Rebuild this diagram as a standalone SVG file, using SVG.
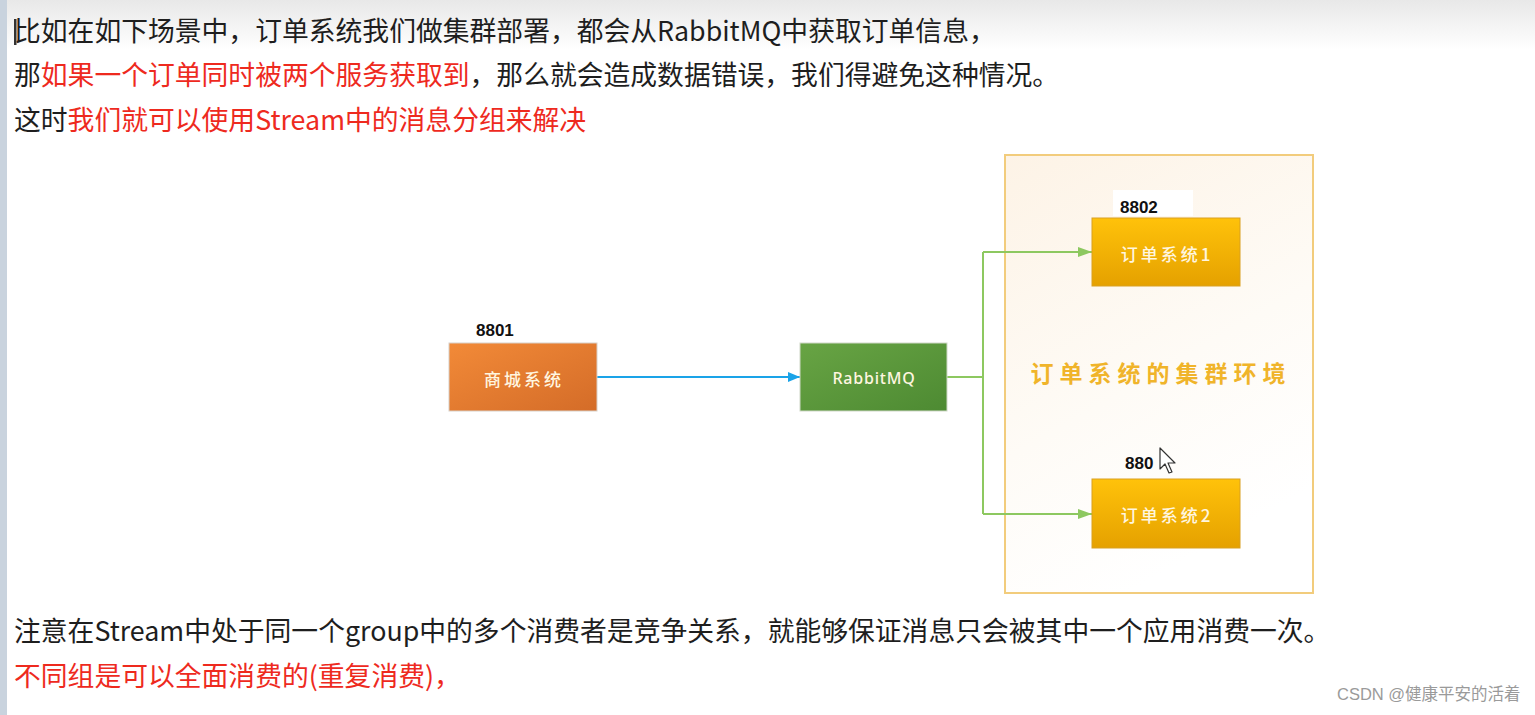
<svg xmlns="http://www.w3.org/2000/svg" width="1535" height="715" viewBox="0 0 1535 715">
<defs>
<style>
.t{font-family:"Noto Sans CJK SC","Noto Sans",sans-serif;font-size:26.8px;fill:#1e1e1e}
.r{fill:#ee2a1e}
.port{font-family:"Liberation Sans",Arial,sans-serif;font-size:17px;font-weight:bold;fill:#111}
.lbl{font-family:"Noto Sans CJK SC","Noto Sans",sans-serif;font-size:17px;font-weight:500;letter-spacing:3px;fill:#fff6e0;text-anchor:middle;dominant-baseline:central}
.lbl.en{font-family:"Noto Sans","Noto Sans CJK SC",sans-serif;font-size:16px;letter-spacing:0.8px}
.blue{stroke:#1aa3e8;stroke-width:2;fill:none}
.green{stroke:#8dc860;stroke-width:2;fill:none}
</style>
<linearGradient id="topband" x1="0" y1="0" x2="0" y2="1">
<stop offset="0" stop-color="#e8e8e8"/>
<stop offset="1" stop-color="#ffffff"/>
</linearGradient>
<linearGradient id="gOrange" x1="0" y1="0" x2="1" y2="1">
<stop offset="0" stop-color="#f28a38"/>
<stop offset="1" stop-color="#d46c28"/>
</linearGradient>
<linearGradient id="gGreen" x1="0" y1="0" x2="1" y2="1">
<stop offset="0" stop-color="#68a444"/>
<stop offset="1" stop-color="#4d8a32"/>
</linearGradient>
<linearGradient id="gYellow" x1="0" y1="0" x2="0" y2="1">
<stop offset="0" stop-color="#ffc20a"/>
<stop offset="1" stop-color="#e5a100"/>
</linearGradient>
<linearGradient id="gCluster" x1="0" y1="0" x2="0.4" y2="1">
<stop offset="0" stop-color="#fdf3e6"/>
<stop offset="0.6" stop-color="#fefbf6"/>
<stop offset="1" stop-color="#ffffff"/>
</linearGradient>
<marker id="arrBlue" viewBox="0 0 12 10" refX="12" refY="5" markerWidth="12" markerHeight="10" markerUnits="userSpaceOnUse" orient="auto">
<path d="M0,0 L12,5 L0,10 Z" fill="#1aa3e8"/>
</marker>
<marker id="arrGreen" viewBox="0 0 14 10" refX="14" refY="5" markerWidth="14" markerHeight="10" markerUnits="userSpaceOnUse" orient="auto">
<path d="M0,0 L14,5 L0,10 Z" fill="#8dc860"/>
</marker>
</defs>

<rect width="1535" height="715" fill="#ffffff"/>
<rect width="1535" height="50" fill="url(#topband)"/>
<rect x="0" y="0" width="7" height="715" fill="#c9d3de"/>

<g id="text-intro">
<rect x="14" y="19" width="2.5" height="26" fill="#333"/>
<text class="t" x="14" y="41">比如在如下场景中，订单系统我们做集群部署，都会从RabbitMQ中获取订单信息，</text>
<text class="t" x="14" y="85">那<tspan class="r">如果一个订单同时被两个服务获取到</tspan>，那么就会造成数据错误，我们得避免这种情况。</text>
<text class="t" x="14" y="130">这时<tspan class="r">我们就可以使用Stream中的消息分组来解决</tspan></text>
</g>

<g id="cluster">
<rect x="1005" y="155" width="308" height="438" fill="url(#gCluster)" stroke="#f2cc7c" stroke-width="2"/>
<text x="1161" y="382" text-anchor="middle" font-family="'Noto Sans CJK SC',sans-serif" font-size="23" font-weight="bold" letter-spacing="6" fill="#f0b42a">订单系统的集群环境</text>
</g>

<g id="connectors">
<line class="blue" x1="597" y1="377" x2="800" y2="377" marker-end="url(#arrBlue)"/>
<polyline class="green" points="947,377 983,377"/>
<polyline class="green" points="983,252 983,514"/>
<line class="green" x1="983" y1="252" x2="1092" y2="252" marker-end="url(#arrGreen)"/>
<line class="green" x1="983" y1="514" x2="1092" y2="514" marker-end="url(#arrGreen)"/>
</g>

<g id="node-mall">
<text class="port" x="476" y="336">8801</text>
<rect x="449" y="343" width="148" height="68" fill="url(#gOrange)" stroke="#d8d0c8" stroke-width="1"/>
<text class="lbl" x="524" y="378">商城系统</text>
</g>

<g id="node-rabbitmq">
<rect x="800" y="343" width="147" height="68" fill="url(#gGreen)" stroke="#d0d8c8" stroke-width="1"/>
<text class="lbl en" x="874" y="378">RabbitMQ</text>
</g>

<g id="node-order1">
<rect x="1113" y="190" width="80" height="26" fill="#ffffff"/>
<text class="port" x="1120" y="213">8802</text>
<rect x="1092" y="218" width="148" height="68" fill="url(#gYellow)" stroke="#d9a020" stroke-width="1"/>
<text class="lbl" x="1167" y="253">订单系统1</text>
</g>

<g id="node-order2">
<text class="port" x="1125" y="469">880</text>
<path d="M1160,448 L1160,469 L1165,464 L1169,473 L1172,472 L1168,463 L1175,463 Z" fill="#ffffff" stroke="#333" stroke-width="1.2" stroke-linejoin="round"/>
<rect x="1092" y="479" width="148" height="69" fill="url(#gYellow)" stroke="#d9a020" stroke-width="1"/>
<text class="lbl" x="1167" y="514">订单系统2</text>
</g>

<g id="text-note">
<text class="t" x="14" y="641">注意在Stream中处于同一个group中的多个消费者是竞争关系，就能够保证消息只会被其中一个应用消费一次。</text>
<text class="t r" x="14" y="686">不同组是可以全面消费的(重复消费)，</text>
</g>

<text x="1337" y="700" font-family="'Liberation Sans','Noto Sans CJK SC',sans-serif" font-size="16.5" fill="#9a9a9a">CSDN @健康平安的活着</text>
</svg>
